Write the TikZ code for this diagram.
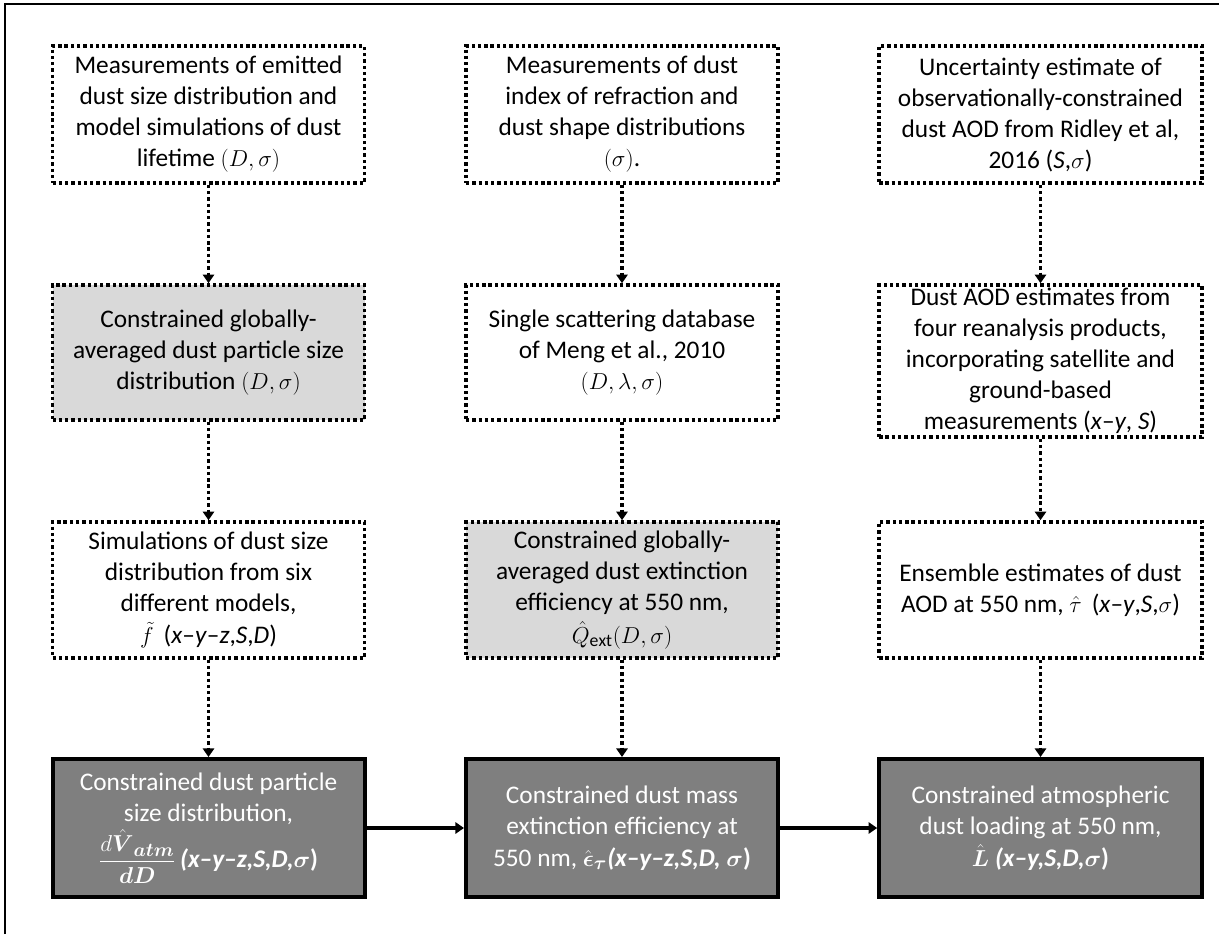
\documentclass[tikz,border=0pt]{standalone}
\usepackage{amsmath,amsbsy}
\usepackage{fontspec}
\setmainfont{Carlito}
\usetikzlibrary{arrows.meta}
\definecolor{lightfill}{HTML}{D9D9D9}
\definecolor{darkfill}{HTML}{7F7F7F}
\tikzset{
  base/.style={align=center, inner sep=2pt, font=\fontsize{19}{23.25}\selectfont},
  dotbox/.style={base, draw=black, line width=2.7pt, dash pattern=on 2.5pt off 2.2pt, fill=white},
  graybox/.style={dotbox, fill=lightfill},
  darkbox/.style={base, draw=black, line width=3pt, fill=darkfill, text=white},
  w1/.style={minimum width=234pt},
  w3/.style={minimum width=242pt},
  h1/.style={minimum height=102.75pt},
  h2/.style={minimum height=114pt},
  dotarrow/.style={line width=2.7pt, dash pattern=on 2.5pt off 2.2pt, -{Triangle[width=8.5pt,length=6.5pt]}},
  solidarrow/.style={line width=2.5pt, -{Triangle[width=8.5pt,length=6.5pt]}},
}
\newcommand{\bsig}{\boldsymbol{\sigma}}
\begin{document}
\begin{tikzpicture}[x=0.75pt,y=-0.75pt]
\useasboundingbox (0,0) rectangle (1219,934);
\draw[line width=2pt] (5,934) -- (5,4) -- (1219,4);

% row 1
\node[dotbox,w1,h1] (a1) at (208.5,114.5) {Measurements of emitted\\dust size distribution and\\model simulations of dust\\lifetime $(D,\sigma)$};
\node[dotbox,w1,h1] (b1) at (622,114.5) {Measurements of dust\\index of refraction and\\dust shape distributions\\$(\sigma)$.};
\node[dotbox,w3,h1] (c1) at (1040.5,114.5) {Uncertainty estimate of\\observationally-constrained\\dust AOD from Ridley et al,\\2016 (\textit{S},$\sigma$)};

% row 2
\node[graybox,w1,minimum height=101.25pt] (a2) at (208.5,352.5) {Constrained globally-\\averaged dust particle size\\distribution $(D,\sigma)$};
\node[dotbox,w1,minimum height=101.25pt] (b2) at (622,352.5) {Single scattering database\\of Meng et al., 2010\\$(D,\lambda,\sigma)$};
\node[dotbox,w3,h2,inner sep=0pt] (c2) at (1040.5,361) {Dust AOD estimates from\\four reanalysis products,\\incorporating satellite and\\ground-based\\measurements (\textit{x}--\textit{y}, \textit{S})};

% row 3
\node[dotbox,w1,minimum height=102pt] (a3) at (208.5,590) {Simulations of dust size\\distribution from six\\different models,\\[1pt]$\tilde{f}$\, (\textit{x}--\textit{y}--\textit{z},\textit{S},\textit{D})};
\node[graybox,w1,minimum height=102pt] (b3) at (622,590) {Constrained globally-\\averaged dust extinction\\efficiency at 550 nm,\\[1pt]$\hat{Q}_{\mathrm{ext}}(D,\sigma)$};
\node[dotbox,w3,minimum height=102pt] (c3) at (1040.5,590) {Ensemble estimates of dust\\AOD at 550 nm, $\hat{\tau}$\, (\textit{x}--\textit{y},\textit{S},$\sigma$)};

% row 4
\node[darkbox,w1,minimum height=103.5pt] (a4) at (208.5,828) {Constrained dust particle\\size distribution,\\[3pt]$\dfrac{d\hat{\boldsymbol{V}}_{\boldsymbol{atm}}}{\boldsymbol{dD}}$\,\textbf{\textit{(x--y--z,S,D,}}$\bsig$\textbf{)}};
\node[darkbox,w1,minimum height=103.5pt] (b4) at (622,828) {Constrained dust mass\\extinction efficiency at\\[1pt]550 nm, $\hat{\boldsymbol{\epsilon}}_{\boldsymbol{\tau}}$\textbf{\textit{(x--y--z,S,D,}} $\bsig$\textbf{)}};
\node[darkbox,w3,minimum height=103.5pt] (c4) at (1040.5,828) {Constrained atmospheric\\dust loading at 550 nm,\\[1pt]$\hat{\boldsymbol{L}}$ \textbf{\textit{(x--y,S,D,}}$\bsig$\textbf{)}};

% connectors
\draw[dotarrow] (a1.south) -- (a2.north);
\draw[dotarrow] (a2.south) -- (a3.north);
\draw[dotarrow] (a3.south) -- (a4.north);
\draw[dotarrow] (b1.south) -- (b2.north);
\draw[dotarrow] (b2.south) -- (b3.north);
\draw[dotarrow] (b3.south) -- (b4.north);
\draw[dotarrow] (c1.south) -- (c2.north);
\draw[dotarrow] (c2.south) -- (c3.north);
\draw[dotarrow] (c3.south) -- (c4.north);
\draw[solidarrow] (a4.east) -- (b4.west);
\draw[solidarrow] (b4.east) -- (c4.west);
\end{tikzpicture}
\end{document}
